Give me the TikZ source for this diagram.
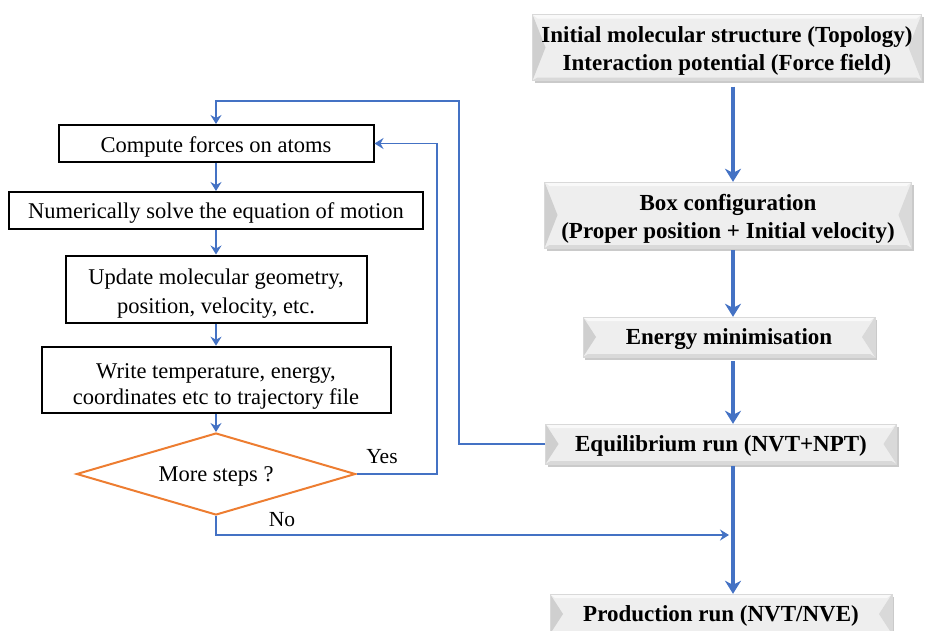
\documentclass[tikz,border=0pt]{standalone}
\usepackage{fontspec}
\setmainfont{Liberation Serif}
\usetikzlibrary{arrows.meta,shapes.geometric,shadows}
\definecolor{ablue}{HTML}{4472C4}
\definecolor{aorange}{HTML}{ED7D31}
\begin{document}
\begin{tikzpicture}[x=1pt,y=-1pt,
  bevelbox/.style={draw=gray!30,line width=0.4pt,fill=gray!13,align=center,inner sep=0pt,
    font=\fontsize{23}{28}\selectfont\bfseries,
    drop shadow={shadow xshift=2pt,shadow yshift=-2.5pt,opacity=0.35,fill=black!60},
    path picture={
      \fill[gray!38] (path picture bounding box.north west) -- ([xshift=13pt]path picture bounding box.west) -- (path picture bounding box.south west) -- cycle;
      \fill[gray!30] (path picture bounding box.north east) -- ([xshift=-13pt]path picture bounding box.east) -- (path picture bounding box.south east) -- cycle;
      \fill[white,opacity=0.7] (path picture bounding box.north west) -- (path picture bounding box.north east) -- ([xshift=-5pt,yshift=-4pt]path picture bounding box.north east) -- ([xshift=5pt,yshift=-4pt]path picture bounding box.north west) -- cycle;
      \fill[gray!30] (path picture bounding box.south west) -- (path picture bounding box.south east) -- ([xshift=-5pt,yshift=3pt]path picture bounding box.south east) -- ([xshift=5pt,yshift=3pt]path picture bounding box.south west) -- cycle;
    }},
  stepbox/.style={draw=black,line width=2pt,fill=white,align=center,inner sep=0pt,
    font=\fontsize{22.5}{28.5}\selectfont},
  decision/.style={diamond,aspect=3.4,draw=aorange,line width=2pt,inner sep=0pt,
    minimum width=279pt,minimum height=82pt,font=\fontsize{22.5}{28.5}\selectfont},
  tb/.style 2 args={text height=#1pt,text depth=#2pt},
  thickarr/.style={draw=ablue,line width=3.8pt,-{Stealth[length=13pt,width=16pt,inset=4pt]}},
  thinarr/.style={draw=ablue,line width=1.8pt,-{Stealth[length=9pt,width=11pt,inset=3pt]}},
  lbl/.style={font=\fontsize{21.5}{25}\selectfont,inner sep=0pt}
]
\useasboundingbox (0,0) rectangle (928,630);

% right column
\node[bevelbox,minimum width=389pt,minimum height=66pt,tb={46}{1},
  font=\fontsize{23}{27.7}\selectfont\bfseries] (r1) at (727,47.5)
  {Initial molecular structure (Topology)\\Interaction potential (Force field)};
\node[bevelbox,minimum width=367pt,minimum height=66pt,tb={47}{1}] (r2) at (728,215)
  {Box configuration\\(Proper position + Initial velocity)};
\node[bevelbox,minimum width=292pt,minimum height=40pt,tb={16}{1}] (r3) at (729,337)
  {Energy minimisation};
\node[bevelbox,minimum width=351pt,minimum height=40pt,tb={16}{1}] (r4) at (721,444)
  {Equilibrium run (NVT+NPT)};
\node[bevelbox,minimum width=342pt,minimum height=40pt,tb={16}{1}] (r5) at (721,614)
  {Production run (NVT/NVE)};

\coordinate (ax) at (733,0);
\draw[thickarr,shorten <=6pt] (r1.south -| ax) -- (r2.north -| ax);
\draw[thickarr,shorten <=2pt] (r2.south -| ax) -- (r3.north -| ax);
\draw[thickarr,shorten <=4pt] (r3.south -| ax) -- (r4.north -| ax);
\draw[thickarr,shorten <=2pt] (r4.south -| ax) -- (r5.north -| ax);

% left column
\node[stepbox,minimum width=315pt,minimum height=37pt,tb={18}{1}] (a) at (216,143.5) {Compute forces on atoms};
\node[stepbox,minimum width=414pt,minimum height=37pt,tb={17}{1}] (b) at (216,210.5) {Numerically solve the equation of motion};
\node[stepbox,minimum width=301pt,minimum height=67pt,tb={49}{1},
  font=\fontsize{22.5}{29}\selectfont] (c) at (216,289) {Update molecular geometry,\\position, velocity, etc.};
\node[stepbox,minimum width=349pt,minimum height=66pt,tb={49.6}{1},
  font=\fontsize{22.5}{26}\selectfont] (d) at (216,379.7) {Write temperature, energy,\\coordinates etc to trajectory file};
\node[decision,tb={16}{1}] (m) at (216,474) {More steps ?};

\draw[thinarr] (a) -- (b);
\draw[thinarr] (b) -- (c);
\draw[thinarr] (c) -- (d);
\draw[thinarr] (d) -- (m);

% loops
\coordinate (o1) at (459,101);
\draw[thinarr] (r4.west) -| (o1) -| (a.north);
\coordinate (y1) at (437,143.5);
\draw[thinarr] (m.east) -| (y1) -- (a.east);
\coordinate (n1) at (729,535);
\draw[thinarr] (m.south) |- (n1);

\node[lbl] (yes) at (382,457) {Yes};
\node[lbl] (no) at (282,520) {No};
\end{tikzpicture}
\end{document}
